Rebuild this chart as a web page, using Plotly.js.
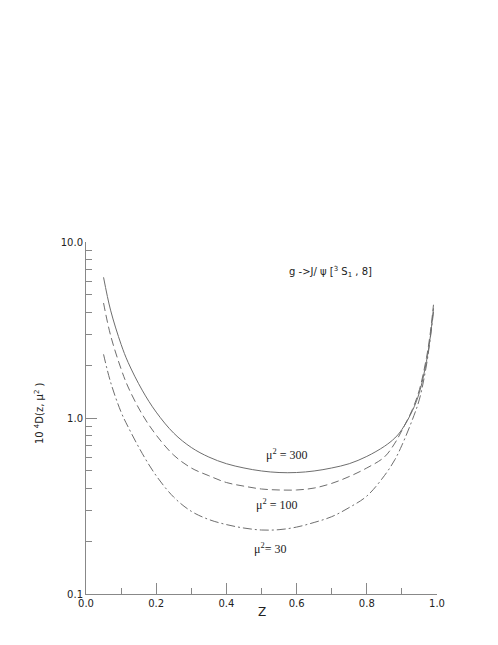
<!DOCTYPE html>
<html>
<head>
<meta charset="utf-8">
<script src="https://cdn.plot.ly/plotly-3.0.1.min.js"></script>
<style>html,body{margin:0;padding:0;background:#fff;}</style>
</head>
<body>
<div id="chart" style="width:498px;height:645px;"></div>
<script>
// z values
const z = [0.05, 0.07, 0.10, 0.12, 0.16, 0.20, 0.25, 0.30, 0.35, 0.40, 0.45, 0.50, 0.55, 0.60, 0.65, 0.70, 0.75, 0.80, 0.85, 0.88, 0.90, 0.93, 0.95, 0.97, 0.98, 0.99];
// 10^4 D(z, mu^2) for mu^2 = 300, 100, 30
const d300 = [6.3, 4.1, 2.62, 2.07, 1.44, 1.08, 0.82, 0.68, 0.60, 0.55, 0.52, 0.50, 0.49, 0.49, 0.50, 0.52, 0.55, 0.605, 0.69, 0.77, 0.86, 1.10, 1.40, 2.1, 2.8, 4.2];
const d100 = [4.5, 2.95, 1.9, 1.5, 1.05, 0.80, 0.615, 0.52, 0.47, 0.43, 0.41, 0.395, 0.39, 0.39, 0.40, 0.425, 0.465, 0.52, 0.60, 0.72, 0.85, 1.12, 1.45, 2.2, 2.95, 4.4];
const d30 = [2.3, 1.6, 1.08, 0.89, 0.63, 0.47, 0.355, 0.295, 0.265, 0.248, 0.237, 0.231, 0.232, 0.24, 0.255, 0.275, 0.31, 0.36, 0.47, 0.58, 0.70, 0.98, 1.28, 2.0, 2.75, 4.0];

const xTickVals = [0, 0.2, 0.4, 0.6, 0.8, 1.0];
const xMinorVals = [0.1, 0.3, 0.5, 0.7, 0.9];
const yTickVals = [0.1, 1, 10];
const yTickText = ['0.1', '1.0', '10.0'];
const yMinorVals = [0.2, 0.3, 0.4, 0.5, 0.6, 0.7, 0.8, 0.9, 2, 3, 4, 5, 6, 7, 8, 9];

const lineColor = '#6e6e6e';
const traces = [
  {x: z, y: d300, mode: 'lines', line: {color: lineColor, width: 1, dash: 'solid', shape: 'spline', smoothing: 1}, hoverinfo: 'skip'},
  {x: z, y: d100, mode: 'lines', line: {color: lineColor, width: 1, dash: '8px,4px', shape: 'spline', smoothing: 1}, hoverinfo: 'skip'},
  {x: z, y: d30, mode: 'lines', line: {color: lineColor, width: 1, dash: '9px,3px,2px,3px', shape: 'spline', smoothing: 1}, hoverinfo: 'skip'}
];

const tickFont = {family: 'DejaVu Sans', size: 10, color: '#222'};
const mid = {xanchor: 'center', yanchor: 'middle', showarrow: false, xref: 'paper', yref: 'paper'};
const layout = {
  width: 498, height: 645,
  margin: {l: 86, r: 61, t: 242, b: 51},
  paper_bgcolor: '#fff', plot_bgcolor: '#fff',
  showlegend: false,
  xaxis: {
    range: [0, 1], showgrid: false, zeroline: false,
    showline: true, linecolor: '#888', linewidth: 1, mirror: false,
    tickmode: 'array', tickvals: xTickVals, tickformat: '.1f',
    ticks: 'inside', ticklen: 11, tickcolor: '#888', tickwidth: 1,
    minor: {tickmode: 'array', tickvals: xMinorVals, ticks: 'inside', ticklen: 6, tickcolor: '#888', showgrid: false},
    tickfont: tickFont
  },
  yaxis: {
    type: 'log', range: [-1, 1], showgrid: false, zeroline: false,
    showline: true, linecolor: '#888', linewidth: 1, mirror: false,
    tickmode: 'array', tickvals: yTickVals, ticktext: yTickText,
    ticks: 'inside', ticklen: 11, tickcolor: '#888', tickwidth: 1,
    minor: {tickmode: 'array', tickvals: yMinorVals, ticks: 'inside', ticklen: 6, tickcolor: '#888', showgrid: false},
    tickfont: tickFont
  },
  annotations: [
    Object.assign({x: 0.698, y: 0.915,
     text: 'g -&gt;J/ ψ [<sup>3</sup> S<sub>1</sub> , 8]',
     font: {family: 'DejaVu Sans', size: 10, color: '#222'}}, mid),
    Object.assign({x: 0.57, y: 0.395,
     text: 'μ<sup>2</sup> = 300', font: {family: 'Liberation Serif', size: 12, color: '#222'}}, mid),
    Object.assign({x: 0.544, y: 0.255,
     text: 'μ<sup>2</sup> = 100', font: {family: 'Liberation Serif', size: 12, color: '#222'}}, mid),
    Object.assign({x: 0.524, y: 0.128,
     text: 'μ<sup>2</sup>= 30', font: {family: 'Liberation Serif', size: 12, color: '#222'}}, mid),
    Object.assign({x: -0.134, y: 0.514, textangle: -90,
     text: '10 <sup>4</sup>D(z, μ<sup>2</sup> )', font: {family: 'DejaVu Sans', size: 10, color: '#222'}}, mid),
    Object.assign({x: 0.501, y: -0.05,
     text: 'Z', font: {family: 'DejaVu Sans', size: 12, color: '#222'}}, mid)
  ]
};

Plotly.newPlot('chart', traces, layout, {displayModeBar: false, staticPlot: true});
</script>
</body>
</html>
